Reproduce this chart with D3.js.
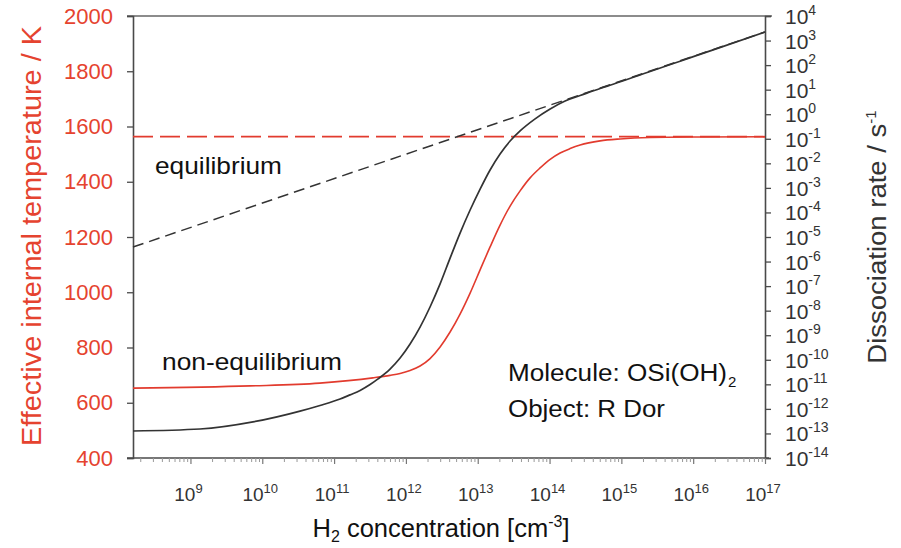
<!DOCTYPE html>
<html><head><meta charset="utf-8">
<script src="https://cdn.jsdelivr.net/npm/d3@7"></script>
<style>
html,body{margin:0;padding:0;background:#fff;}
svg{display:block;font-family:"Liberation Sans",Arial,sans-serif;}
</style></head>
<body>
<svg id="chart" width="901" height="548"></svg>
<script>
// ---- data ----
const xTickExps = [9, 10, 11, 12, 13, 14, 15, 16, 17];
const leftTicks = [400, 600, 800, 1000, 1200, 1400, 1600, 1800, 2000];
const rightTickExps = [-14, -13, -12, -11, -10, -9, -8, -7, -6, -5, -4, -3, -2, -1, 0, 1, 2, 3, 4];

// effective internal temperature, equilibrium (red dashed)
const logN_Teq = [8.2, 17];
const T_eq = [1563, 1563];
// effective internal temperature, non-equilibrium (red solid)
const logN_Tneq = [8.2, 9.83, 10.8, 11.54, 11.779, 11.919, 12.058, 12.197, 12.336, 12.476, 12.615, 12.754, 12.894, 13.033, 13.172, 13.311, 13.451, 13.59, 13.729, 13.869, 14.008, 14.147, 14.286, 14.426, 14.704, 14.983, 15.401, 16.097, 17];
const T_neq = [653, 661, 671, 690, 699, 706, 717, 733, 760, 802, 856, 921, 997, 1081, 1164, 1243, 1312, 1367, 1414, 1450, 1481, 1504, 1520, 1533, 1548, 1555, 1560, 1562, 1563];
// dissociation rate, equilibrium (black dashed)
const logN_Keq = [8.2, 17];
const logK_eq = [-5.41, 3.35];
// dissociation rate, non-equilibrium (black solid)
const logN_Kneq = [8.2, 9.133, 9.871, 10.526, 10.804, 11.083, 11.222, 11.362, 11.501, 11.612, 11.779, 11.919, 12.058, 12.197, 12.336, 12.476, 12.615, 12.754, 12.894, 13.033, 13.172, 13.311, 13.451, 13.59, 13.799, 14.008, 14.217, 14.426, 14.704, 14.885, 15.359, 15.818, 16.278, 17];
const logK_neq = [-12.9, -12.82, -12.53, -12.09, -11.86, -11.6, -11.43, -11.25, -11.01, -10.78, -10.38, -9.93, -9.36, -8.67, -7.85, -6.91, -5.86, -4.84, -3.9, -3.05, -2.27, -1.62, -1.09, -0.68, -0.19, 0.21, 0.54, 0.76, 1.05, 1.22, 1.7, 2.16, 2.62, 3.35];

// ---- layout ----
const RED = "#e23b2e", TRED = "#e5432f", AX = "#4a4a4a";
const L = 133, R = 765, T = 16, B = 458;
const svg = d3.select("#chart");

const x = d3.scaleLog().domain([Math.pow(10, 8.2), 1e17]).range([L, R]);
const yL = d3.scaleLinear().domain([400, 2000]).range([B, T]);
const yR = d3.scaleLog().domain([1e-14, 1e4]).range([B, T]);

// top frame line
svg.append("line").attr("x1", L - 6).attr("x2", R + 7).attr("y1", T).attr("y2", T)
  .attr("stroke", "#666").attr("stroke-width", 1.3);

// left axis
const gL = svg.append("g").attr("transform", `translate(${L},0)`)
  .call(d3.axisLeft(yL).tickValues(leftTicks).tickSize(6).tickPadding(14).tickFormat(d3.format("d")));
gL.select(".domain").attr("stroke", AX).attr("stroke-width", 1.6);
gL.selectAll(".tick line").attr("stroke", AX).attr("stroke-width", 1.3);
gL.selectAll(".tick text").attr("fill", TRED).attr("font-size", 22).attr("font-family", "Liberation Sans, Arial, sans-serif");

// right axis
const gR = svg.append("g").attr("transform", `translate(${R},0)`)
  .call(d3.axisRight(yR).tickValues(rightTickExps.map(e => Math.pow(10, e))).tickSize(6).tickFormat(""));
gR.select(".domain").attr("stroke", AX).attr("stroke-width", 1.6);
gR.selectAll(".tick line").attr("stroke", AX).attr("stroke-width", 1.3);
const rl = svg.append("g").selectAll("text").data(rightTickExps).join("text")
  .attr("x", R + 20).attr("y", d => yR(Math.pow(10, d)) + 8)
  .attr("fill", "#333").attr("font-size", 21);
rl.append("tspan").text("10");
rl.append("tspan").attr("dy", -9).attr("font-size", 14).text(d => d);

// bottom axis
const minor = [];
for (let e = 8; e <= 16; e++) for (let m = 2; m <= 9; m++) {
  const v = m * Math.pow(10, e);
  if (v >= x.domain()[0] && v <= x.domain()[1]) minor.push(v);
}
const gB = svg.append("g").attr("transform", `translate(0,${B})`)
  .call(d3.axisBottom(x).tickValues(xTickExps.map(e => Math.pow(10, e))).tickSize(6).tickFormat("").tickSizeOuter(0));
gB.select(".domain").attr("stroke", AX).attr("stroke-width", 1.6).attr("d", `M${L - 6},0H${R + 4}`);
gB.selectAll(".tick line").attr("stroke", "#777").attr("stroke-width", 1.2);
const gBm = svg.append("g").attr("transform", `translate(0,${B})`)
  .call(d3.axisBottom(x).tickValues(minor).tickSize(4).tickFormat("").tickSizeOuter(0));
gBm.select(".domain").remove();
gBm.selectAll(".tick line").attr("stroke", "#999").attr("stroke-width", 1);
const xl = svg.append("g").selectAll("text").data(xTickExps).join("text")
  .attr("x", d => x(Math.pow(10, d)) - 2).attr("y", 501)
  .attr("text-anchor", "middle").attr("fill", "#333").attr("font-size", 19);
xl.append("tspan").text("10");
xl.append("tspan").attr("dy", -8).attr("font-size", 13).text(d => d);

// ---- lines ----
const lineT = d3.line().x(d => x(Math.pow(10, d[0]))).y(d => yL(d[1])).curve(d3.curveMonotoneX);
const lineK = d3.line().x(d => x(Math.pow(10, d[0]))).y(d => yR(Math.pow(10, d[1]))).curve(d3.curveMonotoneX);

svg.append("path").datum(d3.zip(logN_Teq, T_eq)).attr("d", lineT)
  .attr("fill", "none").attr("stroke", RED).attr("stroke-width", 1.8).attr("stroke-dasharray", "20,7");
svg.append("path").datum(d3.zip(logN_Tneq, T_neq)).attr("d", lineT)
  .attr("fill", "none").attr("stroke", RED).attr("stroke-width", 1.6);
svg.append("path").datum(d3.zip(logN_Keq, logK_eq)).attr("d", lineK)
  .attr("fill", "none").attr("stroke", "#333").attr("stroke-width", 1.5).attr("stroke-dasharray", "11,6");
svg.append("path").datum(d3.zip(logN_Kneq, logK_neq)).attr("d", lineK)
  .attr("fill", "none").attr("stroke", "#333").attr("stroke-width", 1.7);

// ---- annotations ----
function label(txt, xx, yy, len, fs) {
  return svg.append("text").attr("x", xx).attr("y", yy).attr("font-size", fs).attr("fill", "#111")
    .attr("textLength", len).attr("lengthAdjust", "spacingAndGlyphs").text(txt);
}
label("equilibrium", 155, 174, 127, 24);
label("non-equilibrium", 162, 370, 180, 24);
label("Molecule: OSi(OH)", 508, 381, 219, 23);
svg.append("text").attr("x", 728).attr("y", 387).attr("font-size", 15).attr("fill", "#111").text("2");
label("Object: R Dor", 508, 417, 157, 23);

// ---- axis titles ----
svg.append("text").attr("transform", "translate(41,236) rotate(-90)").attr("text-anchor", "middle")
  .attr("font-size", 27).attr("fill", TRED).attr("textLength", 420).attr("lengthAdjust", "spacingAndGlyphs")
  .text("Effective internal temperature / K");
const rt = svg.append("text").attr("transform", "translate(886,237) rotate(-90)").attr("text-anchor", "middle")
  .attr("font-size", 25).attr("fill", "#333");
rt.append("tspan").attr("textLength", 240).attr("lengthAdjust", "spacingAndGlyphs").text("Dissociation rate / s");
rt.append("tspan").attr("dy", -10).attr("font-size", 15).text("-1");
const xt = svg.append("text").attr("x", 441).attr("y", 537).attr("text-anchor", "middle")
  .attr("font-size", 25.5).attr("fill", "#111");
xt.append("tspan").text("H");
xt.append("tspan").attr("dy", 5).attr("font-size", 16).text("2");
xt.append("tspan").attr("dy", -5).text(" concentration [cm");
xt.append("tspan").attr("dy", -10).attr("font-size", 16).text("-3");
xt.append("tspan").attr("dy", 10).text("]");
</script>
</body></html>
